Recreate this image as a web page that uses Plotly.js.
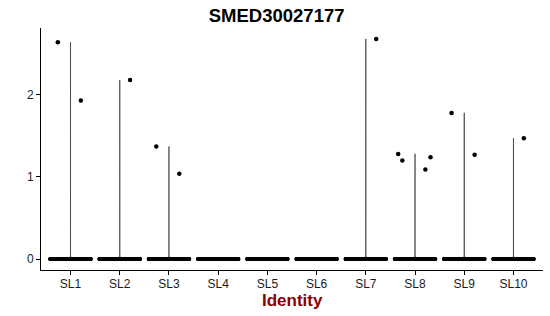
<!DOCTYPE html>
<html>
<head>
<meta charset="utf-8">
<script src="https://cdn.plot.ly/plotly-3.0.1.min.js"></script>
<style>html,body{margin:0;padding:0;background:#fff;}#chart{width:550px;height:316px;}</style>
</head>
<body>
<div id="chart"></div>
<script>
// Clusters (identities)
const identities = ["SL1","SL2","SL3","SL4","SL5","SL6","SL7","SL8","SL9","SL10"];
// Number of cells with zero expression in each identity (estimated)
const zeroCells = [420, 380, 340, 300, 280, 260, 240, 220, 180, 120];
// Non-zero expression values
const exprSL1 = [2.64, 1.93];
const exprSL2 = [2.18];
const exprSL3 = [1.37, 1.04];
const exprSL4 = [];
const exprSL5 = [];
const exprSL6 = [];
const exprSL7 = [2.68];
const exprSL8 = [1.28, 1.24, 1.20, 1.09];
const exprSL9 = [1.78, 1.27];
const exprSL10 = [1.47];
const yTicks = [0, 1, 2];

const nonZero = [exprSL1, exprSL2, exprSL3, exprSL4, exprSL5, exprSL6, exprSL7, exprSL8, exprSL9, exprSL10];

const common = {
  type: 'violin',
  width: 0.9,
  scalemode: 'width',
  spanmode: 'hard',
  box: {visible: false},
  meanline: {visible: false},
  hoverinfo: 'skip',
  showlegend: false
};

const traces = [];
// violin outlines (only where some cells express the gene)
identities.forEach((id, i) => {
  if (!nonZero[i].length) return;
  const vals = new Array(zeroCells[i]).fill(0).concat(nonZero[i]);
  traces.push(Object.assign({}, common, {
    x0: id, y: vals,
    points: false,
    bandwidth: 0.008,
    line: {color: '#000', width: 0.6},
    fillcolor: 'rgba(0,0,0,0)'
  }));
});
// jittered cells at zero
identities.forEach((id, i) => {
  traces.push(Object.assign({}, common, {
    x0: id, y: new Array(zeroCells[i]).fill(0),
    points: 'all', pointpos: 0, jitter: 0.92,
    line: {color: 'rgba(0,0,0,0)', width: 0},
    fillcolor: 'rgba(0,0,0,0)',
    marker: {color: '#000', size: 4, line: {width: 0}}
  }));
});
// jittered expressing cells
identities.forEach((id, i) => {
  if (!nonZero[i].length) return;
  traces.push(Object.assign({}, common, {
    x0: id, y: nonZero[i],
    points: 'all', pointpos: 0, jitter: 0.9,
    line: {color: 'rgba(0,0,0,0)', width: 0},
    fillcolor: 'rgba(0,0,0,0)',
    marker: {color: '#000', size: 4.5, line: {width: 0}}
  }));
});

const layout = {
  width: 550, height: 316,
  margin: {l: 41, r: 7, t: 28, b: 46},
  paper_bgcolor: '#fff', plot_bgcolor: '#fff',
  violinmode: 'overlay',
  font: {family: 'Liberation Sans, Arial, sans-serif', color: '#000', size: 12},
  title: {text: '<b>SMED30027177</b>', x: 0.503, xanchor: 'center', y: 0.95, yanchor: 'middle',
          font: {size: 18.5, color: '#000', family: 'Liberation Sans, Arial, sans-serif'}},
  xaxis: {
    type: 'category',
    categoryorder: 'array', categoryarray: identities,
    range: [-0.6, 9.6],
    showline: true, linecolor: '#000', linewidth: 1,
    ticks: 'outside', ticklen: 4, tickcolor: '#000', tickwidth: 1,
    ticklabelstandoff: -1,
    showgrid: false, zeroline: false,
    tickfont: {size: 12, color: '#1a1a1a'},
    automargin: false
  },
  yaxis: {
    range: [-0.134, 2.814],
    tickvals: yTicks,
    showline: true, linecolor: '#000', linewidth: 1,
    ticks: 'outside', ticklen: 4, tickcolor: '#000', tickwidth: 1,
    showgrid: false, zeroline: false,
    tickfont: {size: 12, color: '#1a1a1a'},
    automargin: false
  },
  annotations: [{
    text: '<b>Identity</b>', xref: 'paper', yref: 'paper',
    x: 0.5, y: -0.124, xanchor: 'center', yanchor: 'middle', showarrow: false,
    font: {size: 17, color: '#8B0000', family: 'Liberation Sans, Arial, sans-serif'}
  }]
};

Plotly.newPlot('chart', traces, layout, {staticPlot: true, displayModeBar: false});
</script>
</body>
</html>
